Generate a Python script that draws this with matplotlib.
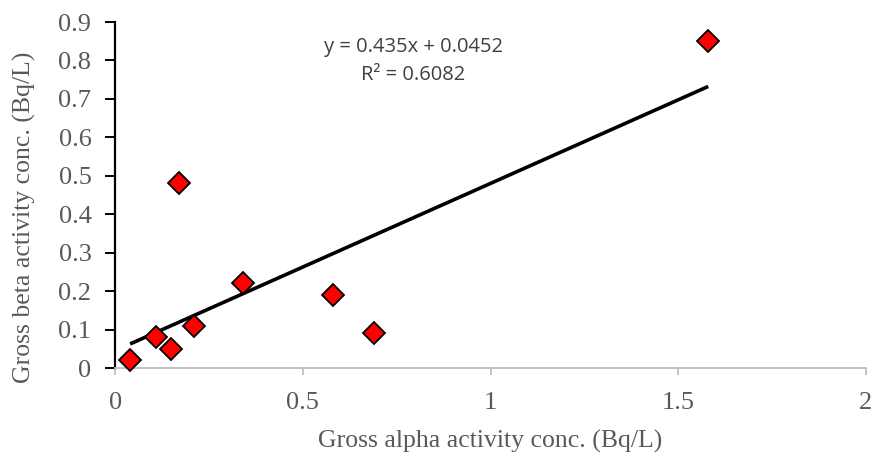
import numpy as np
import matplotlib
matplotlib.use("Agg")
import matplotlib.pyplot as plt
from matplotlib.ticker import FuncFormatter

# gross alpha / beta activity (Bq/L)
alpha_conc = [0.04, 0.11, 0.15, 0.17, 0.21, 0.34, 0.58, 0.69, 1.58]
beta_conc = [0.02, 0.08, 0.05, 0.48, 0.11, 0.22, 0.19, 0.09, 0.85]
x_ticks = [0, 0.5, 1, 1.5, 2]
y_ticks = [0, 0.1, 0.2, 0.3, 0.4, 0.5, 0.6, 0.7, 0.8, 0.9]
eq_text = "y = 0.435x + 0.0452\nR² = 0.6082"

serif = ["Liberation Serif", "DejaVu Serif"]
grey_txt = "#595959"

fig = plt.figure(figsize=(8.72, 4.54), dpi=100)
ax = fig.add_axes([0.132, 0.1894, 0.861, 0.7621])

# trend line (least squares) over data range
slope, icpt = np.polyfit(alpha_conc, beta_conc, 1)
xs = np.array([min(alpha_conc), max(alpha_conc)])
ax.plot(xs, slope * xs + icpt, color="black", lw=2.6, solid_capstyle="butt", zorder=2)

ax.plot(alpha_conc, beta_conc, linestyle="none", marker="D", ms=11,
        mfc="#ff0000", mec="black", mew=1.3, zorder=3, clip_on=False)

ax.set_xlim(0, 2)
ax.set_ylim(0, 0.9)
ax.set_xticks(x_ticks)
ax.set_yticks(y_ticks)
fmt = FuncFormatter(lambda v, p: "%g" % round(v, 2))
ax.xaxis.set_major_formatter(fmt)
ax.yaxis.set_major_formatter(fmt)

for s in ["top", "right"]:
    ax.spines[s].set_visible(False)
ax.spines["left"].set_color("black")
ax.spines["left"].set_linewidth(1.6)
ax.spines["bottom"].set_color("#bfbfbf")
ax.spines["bottom"].set_linewidth(1.3)

ax.tick_params(axis="y", direction="out", length=7, width=1.4, color="black",
               labelsize=19, labelcolor=grey_txt, pad=10)
ax.tick_params(axis="x", direction="out", length=5, width=1.3, color="#bfbfbf",
               labelsize=19, labelcolor=grey_txt, pad=12)
for lab in ax.get_xticklabels() + ax.get_yticklabels():
    lab.set_fontfamily(serif)

ax.set_xlabel("Gross alpha activity conc. (Bq/L)", fontsize=18.5, color=grey_txt,
              family=serif, labelpad=12)
ax.set_ylabel("Gross beta activity conc. (Bq/L)", fontsize=18.5, color=grey_txt,
              family=serif)
ax.yaxis.set_label_coords(-0.106, 0.436)

ax.text(0.795, 0.798, eq_text, fontsize=14.5, color="#404040", ha="center", va="center",
        family=["Open Sans", "DejaVu Sans"], linespacing=1.5)

fig.savefig("out.png", dpi=100)
